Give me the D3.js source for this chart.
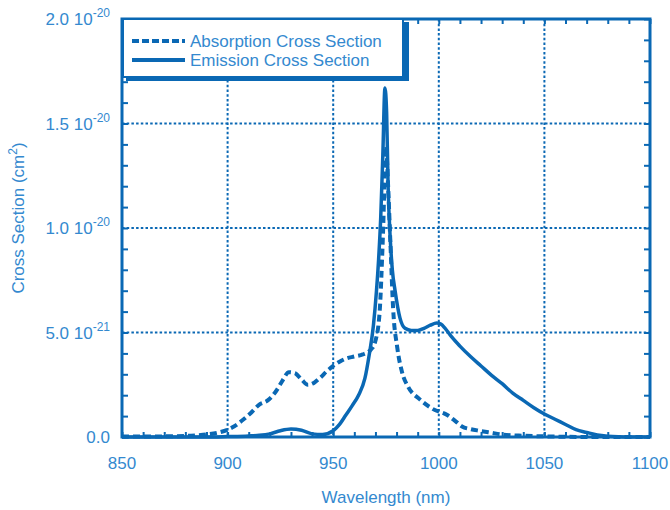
<!DOCTYPE html>
<html><head><meta charset="utf-8">
<script src="https://cdn.jsdelivr.net/npm/d3@7"></script>
<style>
html,body{margin:0;padding:0;background:#fff;}
svg text{font-family:"Liberation Sans",Arial,sans-serif;}
</style></head>
<body><svg id="c" width="670" height="510"></svg>
<script>
// ---- data (cross section in units of 1e-21 cm^2) ----
const absWl  = [850,860,870,880,885,890,895,900,903,907,911,915,919,923,926,929,932,935,938,941,944,947,950,953,956,960,964,968,970,972,973.5,975,976,977,978.4,980.3,982.6,985.5,991,997,1004,1008,1011,1015,1019,1025,1030,1040,1050,1060,1070,1100];
const absVal = [0.02,0.02,0.03,0.05,0.08,0.12,0.2,0.35,0.5,0.8,1.15,1.55,1.75,2.2,2.7,3.1,3.05,2.75,2.5,2.6,2.85,3.15,3.4,3.6,3.75,3.85,3.95,4.2,4.6,6.0,9.5,13.9,12.0,9.5,6.1,4.3,3.1,2.4,1.8,1.35,1.05,0.75,0.5,0.38,0.3,0.2,0.12,0.06,0.03,0.01,0,0];
const emiWl  = [850,860,870,880,890,900,910,915,920,925,930,935,940,945,950,953,956,959,962,965,967,969,970.5,971.5,972.5,973.5,974.5,975.3,976,977,978,979.3,981.6,984,987,990,993,996,999,1001,1003,1006,1010,1015,1020,1025,1030,1035,1040,1045,1050,1055,1060,1065,1070,1075,1080,1085,1090,1100];
const emiVal = [0,0,0,0,0,0.02,0.05,0.08,0.15,0.3,0.38,0.32,0.15,0.12,0.3,0.6,1.05,1.5,2.0,2.8,3.9,5.3,7.0,8.5,10.5,13.5,16.7,15.5,12.0,9.5,8.0,7.0,5.7,5.2,5.1,5.1,5.2,5.35,5.45,5.4,5.2,4.8,4.35,3.85,3.4,2.95,2.55,2.1,1.75,1.4,1.1,0.85,0.6,0.35,0.22,0.1,0.04,0.01,0,0];
const xTicks = [850,900,950,1000,1050,1100];
const yTicks = [0,5,10,15,20];
const yTickLabels = [["0.0",""],["5.0 10","-21"],["1.0 10","-20"],["1.5 10","-20"],["2.0 10","-20"]];
const seriesNames = ["Absorption Cross Section","Emission Cross Section"];
const xTitle = "Wavelength (nm)";
const yTitle = "Cross Section (cm";

const lineCol = "#0a68b4", textCol = "#3489cf";
const L=122, R=650, T=19, B=437;
const svg = d3.select("#c");
const x = d3.scaleLinear().domain([850,1100]).range([L,R]);
const y = d3.scaleLinear().domain([0,20]).range([B,T]);

// grid
const g = svg.append("g");
g.selectAll("line.vg").data(xTicks.slice(1,-1)).join("line")
  .attr("x1",d=>x(d)).attr("x2",d=>x(d)).attr("y1",T).attr("y2",B)
  .attr("stroke",lineCol).attr("stroke-width",2).attr("stroke-dasharray","2.5,2.2");
g.selectAll("line.hg").data(yTicks.slice(1,-1)).join("line")
  .attr("x1",L).attr("x2",R).attr("y1",d=>y(d)).attr("y2",d=>y(d))
  .attr("stroke",lineCol).attr("stroke-width",2).attr("stroke-dasharray","2.5,2.2");

// minor ticks via axes
const xMinor = d3.range(850,1101,10), yMinor = d3.range(0,20.01,1);
function tickAxis(axis, transform){
  const a = svg.append("g").attr("transform",transform).call(axis);
  a.select(".domain").remove();
  a.selectAll("line").attr("stroke",lineCol).attr("stroke-width",2);
  a.selectAll("text").remove();
}
tickAxis(d3.axisBottom(x).tickValues(xMinor).tickSize(-5).tickFormat(""),`translate(0,${B})`);
tickAxis(d3.axisTop(x).tickValues(xMinor).tickSize(-5).tickFormat(""),`translate(0,${T})`);
tickAxis(d3.axisLeft(y).tickValues(yMinor).tickSize(-6).tickFormat(""),`translate(${L},0)`);
tickAxis(d3.axisRight(y).tickValues(yMinor).tickSize(-6).tickFormat(""),`translate(${R},0)`);

// curves
const line = d3.line().x(d=>x(d[0])).y(d=>y(d[1])).curve(d3.curveMonotoneX);
svg.append("path").datum(emiWl.map((w,i)=>[w,emiVal[i]])).attr("d",line)
  .attr("fill","none").attr("stroke",lineCol).attr("stroke-width",3.5).attr("stroke-linejoin","round");
svg.append("path").datum(absWl.map((w,i)=>[w,absVal[i]])).attr("d",line)
  .attr("fill","none").attr("stroke",lineCol).attr("stroke-width",4).attr("stroke-dasharray","7,4");

// frame
svg.append("rect").attr("x",L).attr("y",T).attr("width",R-L).attr("height",B-T)
  .attr("fill","none").attr("stroke",lineCol).attr("stroke-width",3);

// legend
const lg = svg.append("g");
lg.append("rect").attr("x",126).attr("y",22).attr("width",283).attr("height",59).attr("fill",lineCol);
lg.append("rect").attr("x",123).attr("y",19).attr("width",280).attr("height",58)
  .attr("fill","#fff").attr("stroke",lineCol).attr("stroke-width",2);
const ly = [41,60];
lg.selectAll("line.lgl").data(seriesNames).join("line")
  .attr("x1",132).attr("x2",185).attr("y1",(d,i)=>ly[i]).attr("y2",(d,i)=>ly[i])
  .attr("stroke",lineCol).attr("stroke-width",4).attr("stroke-dasharray",(d,i)=>i==0?"7,3":null);
lg.selectAll("text").data(seriesNames).join("text")
  .attr("x",190).attr("y",(d,i)=>ly[i]+6).attr("fill",textCol).attr("font-size",17).text(d=>d);

// tick labels
svg.selectAll("text.xt").data(xTicks).join("text").attr("class","xt")
  .attr("x",d=>x(d)).attr("y",469).attr("text-anchor","middle").attr("fill",textCol).attr("font-size",17).text(d=>d);
const yt = svg.selectAll("text.yt").data(yTicks).join("text").attr("class","yt")
  .attr("x",110).attr("y",d=>y(d)+6).attr("text-anchor","end").attr("fill",textCol).attr("font-size",17);
yt.append("tspan").text((d,i)=>yTickLabels[i][0]);
yt.append("tspan").attr("dy",-8).attr("font-size",12).text((d,i)=>yTickLabels[i][1]);

// titles
svg.append("text").attr("x",386).attr("y",503).attr("text-anchor","middle").attr("fill",textCol).attr("font-size",17).text(xTitle);
const yl = svg.append("text").attr("transform","translate(24,218) rotate(-90)").attr("text-anchor","middle").attr("fill",textCol).attr("font-size",17);
yl.append("tspan").text(yTitle);
yl.append("tspan").attr("dy",-7).attr("font-size",12).text("2");
yl.append("tspan").attr("dy",7).text(")");
</script></body></html>
